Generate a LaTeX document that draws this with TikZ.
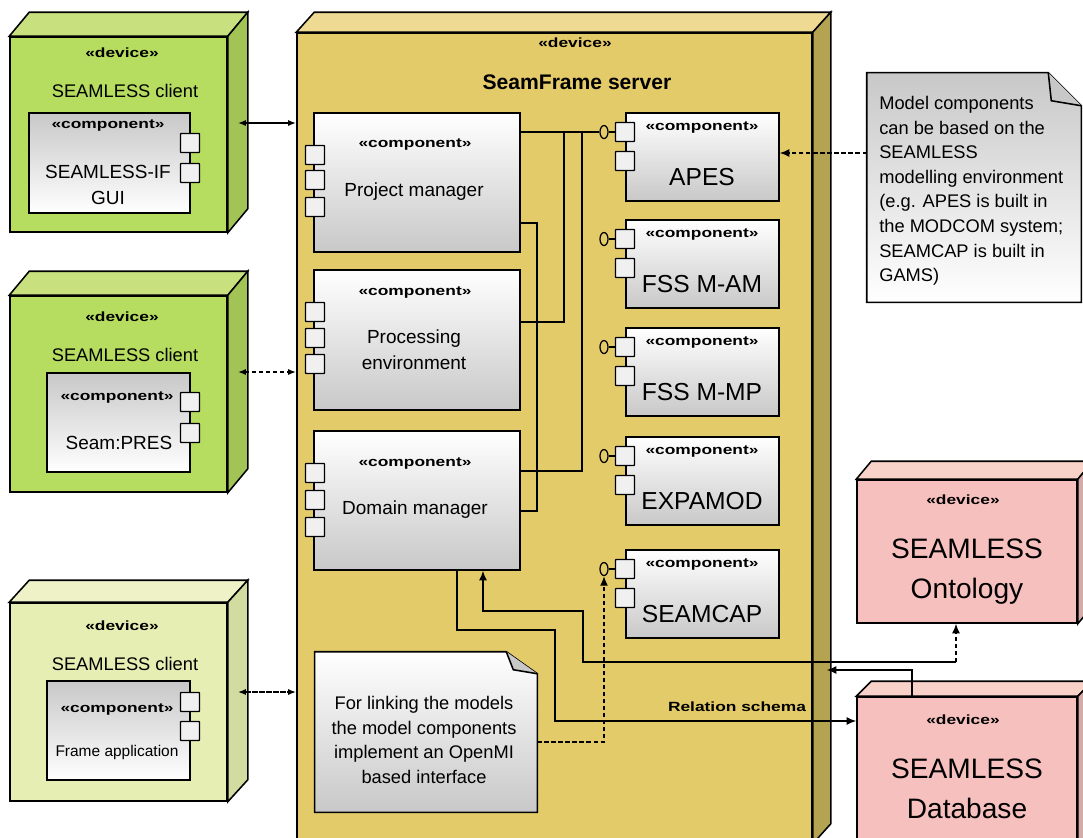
\documentclass[tikz,border=0pt]{standalone}
\usepackage{fontspec}
\setmainfont{Liberation Sans}
\newfontfamily\stereofont[FakeStretch=1.3]{Liberation Sans}
\usetikzlibrary{positioning,fit,arrows.meta,shapes.geometric}

\definecolor{limefront}{HTML}{B6DC60}
\definecolor{limetop}{HTML}{C8E07E}
\definecolor{limeside}{HTML}{A2C456}
\definecolor{palefront}{HTML}{E6EEB4}
\definecolor{paletop}{HTML}{EEF2C6}
\definecolor{paleside}{HTML}{D2DCA0}
\definecolor{srvfront}{HTML}{E4CB6A}
\definecolor{srvtop}{HTML}{EEDA92}
\definecolor{srvside}{HTML}{B4A452}
\definecolor{pinkfront}{HTML}{F6C0BE}
\definecolor{pinktop}{HTML}{F8D2C8}
\definecolor{pinkside}{HTML}{D6AAA8}
\definecolor{compgray}{HTML}{C8C8C8}

\def\px{0.25mm}

% top and side faces of a device box
\newcommand{\devcube}[5]{%
  \filldraw[fill=#4, boxline] (#1.north west) -- ++(#2,-#3)
    -- ([shift={(#2,-#3)}]#1.north east) -- (#1.north east) -- cycle;
  \filldraw[fill=#5, boxline] (#1.north east) -- ([shift={(#2,-#3)}]#1.north east)
    -- ([shift={(#2,-#3)}]#1.south east) -- (#1.south east) -- cycle;
}

\tikzset{
  boxline/.style={draw=black, line width=1.1pt},
  devbox/.style={boxline, inner sep=0pt},
  comp/.style={boxline, inner sep=0pt, top color=white, bottom color=compgray},
  ccomp/.style={boxline, inner sep=0pt, top color=compgray, bottom color=white},
  port/.style={draw, line width=1pt, fill=black!6, minimum width=19*\px,
    minimum height=19*\px, inner sep=0pt, rounded corners=0.5pt},
  lolli/.style={draw, line width=0.9pt, ellipse, minimum width=8*\px,
    minimum height=13*\px, inner sep=0pt},
  stereo/.style={font=\stereofont\bfseries\fontsize{9.5}{11}\selectfont, inner sep=0pt},
  title/.style={font=\fontsize{13}{15}\selectfont, inner sep=0pt},
  cname/.style={font=\fontsize{13.5}{18.5}\selectfont, inner sep=0pt, align=center},
  mname/.style={font=\fontsize{17.5}{20}\selectfont, inner sep=0pt},
  dname/.style={font=\fontsize{20}{28.5}\selectfont, inner sep=0pt, align=center},
  notetext/.style={font=\fontsize{13}{17.5}\selectfont, inner sep=0pt},
  link/.style={line width=1pt},
  arrowed/.style={-{Latex[length=2.4mm,width=2mm]}},
}

\begin{document}
\begin{tikzpicture}[x=0.25mm, y=-0.25mm]
  \clip (0,0) rectangle (1083,837);

  % client devices
  \node[devbox, fill=limefront, fit={(10,37) (227,232)}] (c1) {};
  \devcube{c1}{20}{24}{limetop}{limeside}
  \node[devbox, fill=limefront, fit={(10,296) (227,492)}] (c2) {};
  \devcube{c2}{20}{24}{limetop}{limeside}
  \node[devbox, fill=palefront, fit={(10,603) (227,801)}] (c3) {};
  \devcube{c3}{20}{22}{paletop}{paleside}

  % server device
  \node[devbox, fill=srvfront, fit={(297,33) (812,843)}] (srv) {};
  \devcube{srv}{18}{20}{srvtop}{srvside}

  % ontology and database devices
  \node[devbox, fill=pinkfront, fit={(857,480) (1077,623)}] (ont) {};
  \devcube{ont}{15}{18}{pinktop}{pinkside}
  \node[devbox, fill=pinkfront, fit={(857,697) (1077,870)}] (db) {};
  \devcube{db}{15}{15}{pinktop}{pinkside}
  \node[stereo] (ont-s) at (963,500) {«device»};
  \node[dname] (ont-t) at (967,572) {SEAMLESS\\Ontology};
  \node[stereo] (db-s) at (963,720) {«device»};
  \node[dname] (db-t) at (967,789) {SEAMLESS\\Database};

  % client texts
  \foreach \c/\y in {c1/53, c2/317, c3/626} {
    \node[stereo] (\c-s) at (122,\y) {«device»};
    \node[title] (\c-t) at (125,\y+38) {SEAMLESS client};
  }

  % client components
  \node[ccomp, fit={(29,113) (190,213)}] (gui) {};
  \node[ccomp, fit={(47,373) (190,472)}] (pres) {};
  \node[ccomp, fit={(47,681) (190,780)}] (fa) {};
  \foreach \c/\ya/\yb in {gui/143/173, pres/402/433, fa/702/731} {
    \node[port] (\c-p1) at (190,\ya) {};
    \node[port] (\c-p2) at (190,\yb) {};
  }
  \node[stereo] (gui-s) at (108,126) {«component»};
  \node[cname] (gui-t) at (108,185) {SEAMLESS-IF\\GUI};
  \node[stereo] (pres-s) at (117,398) {«component»};
  \node[cname] (pres-t) at (119,443) {Seam:PRES};
  \node[stereo] (fa-s) at (117,710) {«component»};
  \node[cname, font=\fontsize{11}{13}\selectfont] (fa-t) at (117,752) {Frame application};

  % server texts
  \node[stereo] (srv-s) at (575,43) {«device»};
  \node[font=\bfseries\fontsize{15}{18}\selectfont, inner sep=0pt] (srv-t) at (577,82) {SeamFrame server};

  % framework components
  \node[comp, fit={(314,113) (520,252)}] (pm) {};
  \node[comp, fit={(314,270) (520,410)}] (pe) {};
  \node[comp, fit={(314,431) (520,570)}] (dm) {};
  \foreach \c/\ya/\yb/\yc in {pm/155/180/207, pe/312/338/364, dm/473/500/527} {
    \foreach \y [count=\i] in {\ya,\yb,\yc}
      \node[port] (\c-p\i) at (315,\y) {};
  }
  \node[stereo] (pm-s) at (415,145) {«component»};
  \node[cname] (pm-t) at (414,192) {Project manager};
  \node[stereo] (pe-s) at (415,293) {«component»};
  \node[cname] (pe-t) at (414,350) {Processing\\environment};
  \node[stereo] (dm-s) at (415,464) {«component»};
  \node[cname] (dm-t) at (415,510) {Domain manager};

  % model components
  \foreach \c/\lbl/\top in {apes/APES/113, fam/FSS M-AM/220, fmp/FSS M-MP/328,
                             exp/EXPAMOD/437, cap/SEAMCAP/550} {
    \node[comp, fit={(626,\top) (779,\top+88)}] (\c) {};
    \node[port] (\c-p1) at (625,\top+19) {};
    \node[port] (\c-p2) at (625,\top+48) {};
    \node[lolli] (\c-lp) at (604,\top+19) {};
    \draw[line width=0.9pt] (\c-lp) -- (\c-p1);
    \node[stereo] (\c-s) at (702,\top+15) {«component»};
    \node[mname] (\c-t) at (702,\top+64) {\lbl};
  }

  % note on the modelling environment
  \node[fit={(867,73) (1081,302)}, inner sep=0pt] (n1) {};
  \draw[boxline, top color=compgray, bottom color=white] (n1.north west)
    -- ([xshift=-33*\px]n1.north east) -- ([yshift=-33*\px]n1.north east)
    -- (n1.south east) -- (n1.south west) -- cycle;
  \draw[boxline, fill=compgray] ([xshift=-33*\px]n1.north east)
    -- ([xshift=-30*\px, yshift=-28*\px]n1.north east) -- ([yshift=-33*\px]n1.north east);
  \node[notetext, align=left, anchor=north west] (n1-t) at (879,96)
    {Model components\\can be based on the\\SEAMLESS\\modelling environment\\
     (e.g. APES is built in\\the MODCOM system;\\SEAMCAP is built in\\GAMS)};

  % note on OpenMI
  \node[fit={(315,652) (537,812)}, inner sep=0pt] (n2) {};
  \draw[boxline, top color=white, bottom color=compgray] (n2.north west)
    -- ([xshift=-31*\px]n2.north east) -- ([yshift=-22*\px]n2.north east)
    -- (n2.south east) -- (n2.south west) -- cycle;
  \draw[boxline, fill=compgray] ([xshift=-31*\px]n2.north east)
    -- ([xshift=-24*\px, yshift=-18*\px]n2.north east) -- ([yshift=-22*\px]n2.north east);
  \node[notetext, align=center] (n2-t) at (424,740)
    {For linking the models\\the model components\\implement an OpenMI\\based interface};

  % client links
  \path (c1.east |- 0,123) ++(10,0) coordinate (c1-out);
  \path (c2.east |- 0,372) ++(10,0) coordinate (c2-out);
  \path (c3.east |- 0,692) ++(10,0) coordinate (c3-out);
  \draw[line width=1.6pt, {Latex[length=2mm]}-{Latex[length=2mm]}] (c1-out) -- (srv.west |- c1-out);
  \draw[line width=1.2pt, densely dashed, {Latex[length=2mm]}-{Latex[length=2mm]}] (c2-out) -- (srv.west |- c2-out);
  \draw[line width=2pt, dash pattern=on 4pt off 1pt, {Latex[length=2mm]}-{Latex[length=2mm]}] (c3-out) -- (srv.west |- c3-out);

  % links to the APES interface
  \draw[link] (pm.east |- apes-lp) -- (apes-lp);
  \draw[link] (pe.east |- 0,322) -| (564,0 |- apes-lp);
  \draw[link] (dm.east |- 0,471) -| (582,0 |- apes-lp);
  \draw[link] (pm.east |- 0,223) -| (537,511) -- (dm.east |- 0,511);

  % relation schema to the database
  \draw[link, arrowed] (dm.south -| 457,0) |- (555,630) |- (db.west |- 0,721);
  \node[stereo] (rs) at (737,707) {Relation schema};

  % ontology link
  \coordinate (ont-in) at (956,662);
  \draw[link, arrowed] (ont-in) -| (583,611) -| (dm.south -| 483,0);
  \draw[link, densely dashed, arrowed] (ont-in) -- (ont.south -| ont-in);

  % database to server
  \path (srv.east |- 0,670) ++(14,0) coordinate (srv-in);
  \draw[link, arrowed] (db.north -| 912,0) |- (srv-in);

  % note links
  \draw[link, densely dashed, arrowed] (n1.west |- 0,153) -- (apes.east |- 0,153);
  \draw[link, densely dashed, arrowed] (n2.east |- 0,742) -| (cap-lp.south);
\end{tikzpicture}
\end{document}
